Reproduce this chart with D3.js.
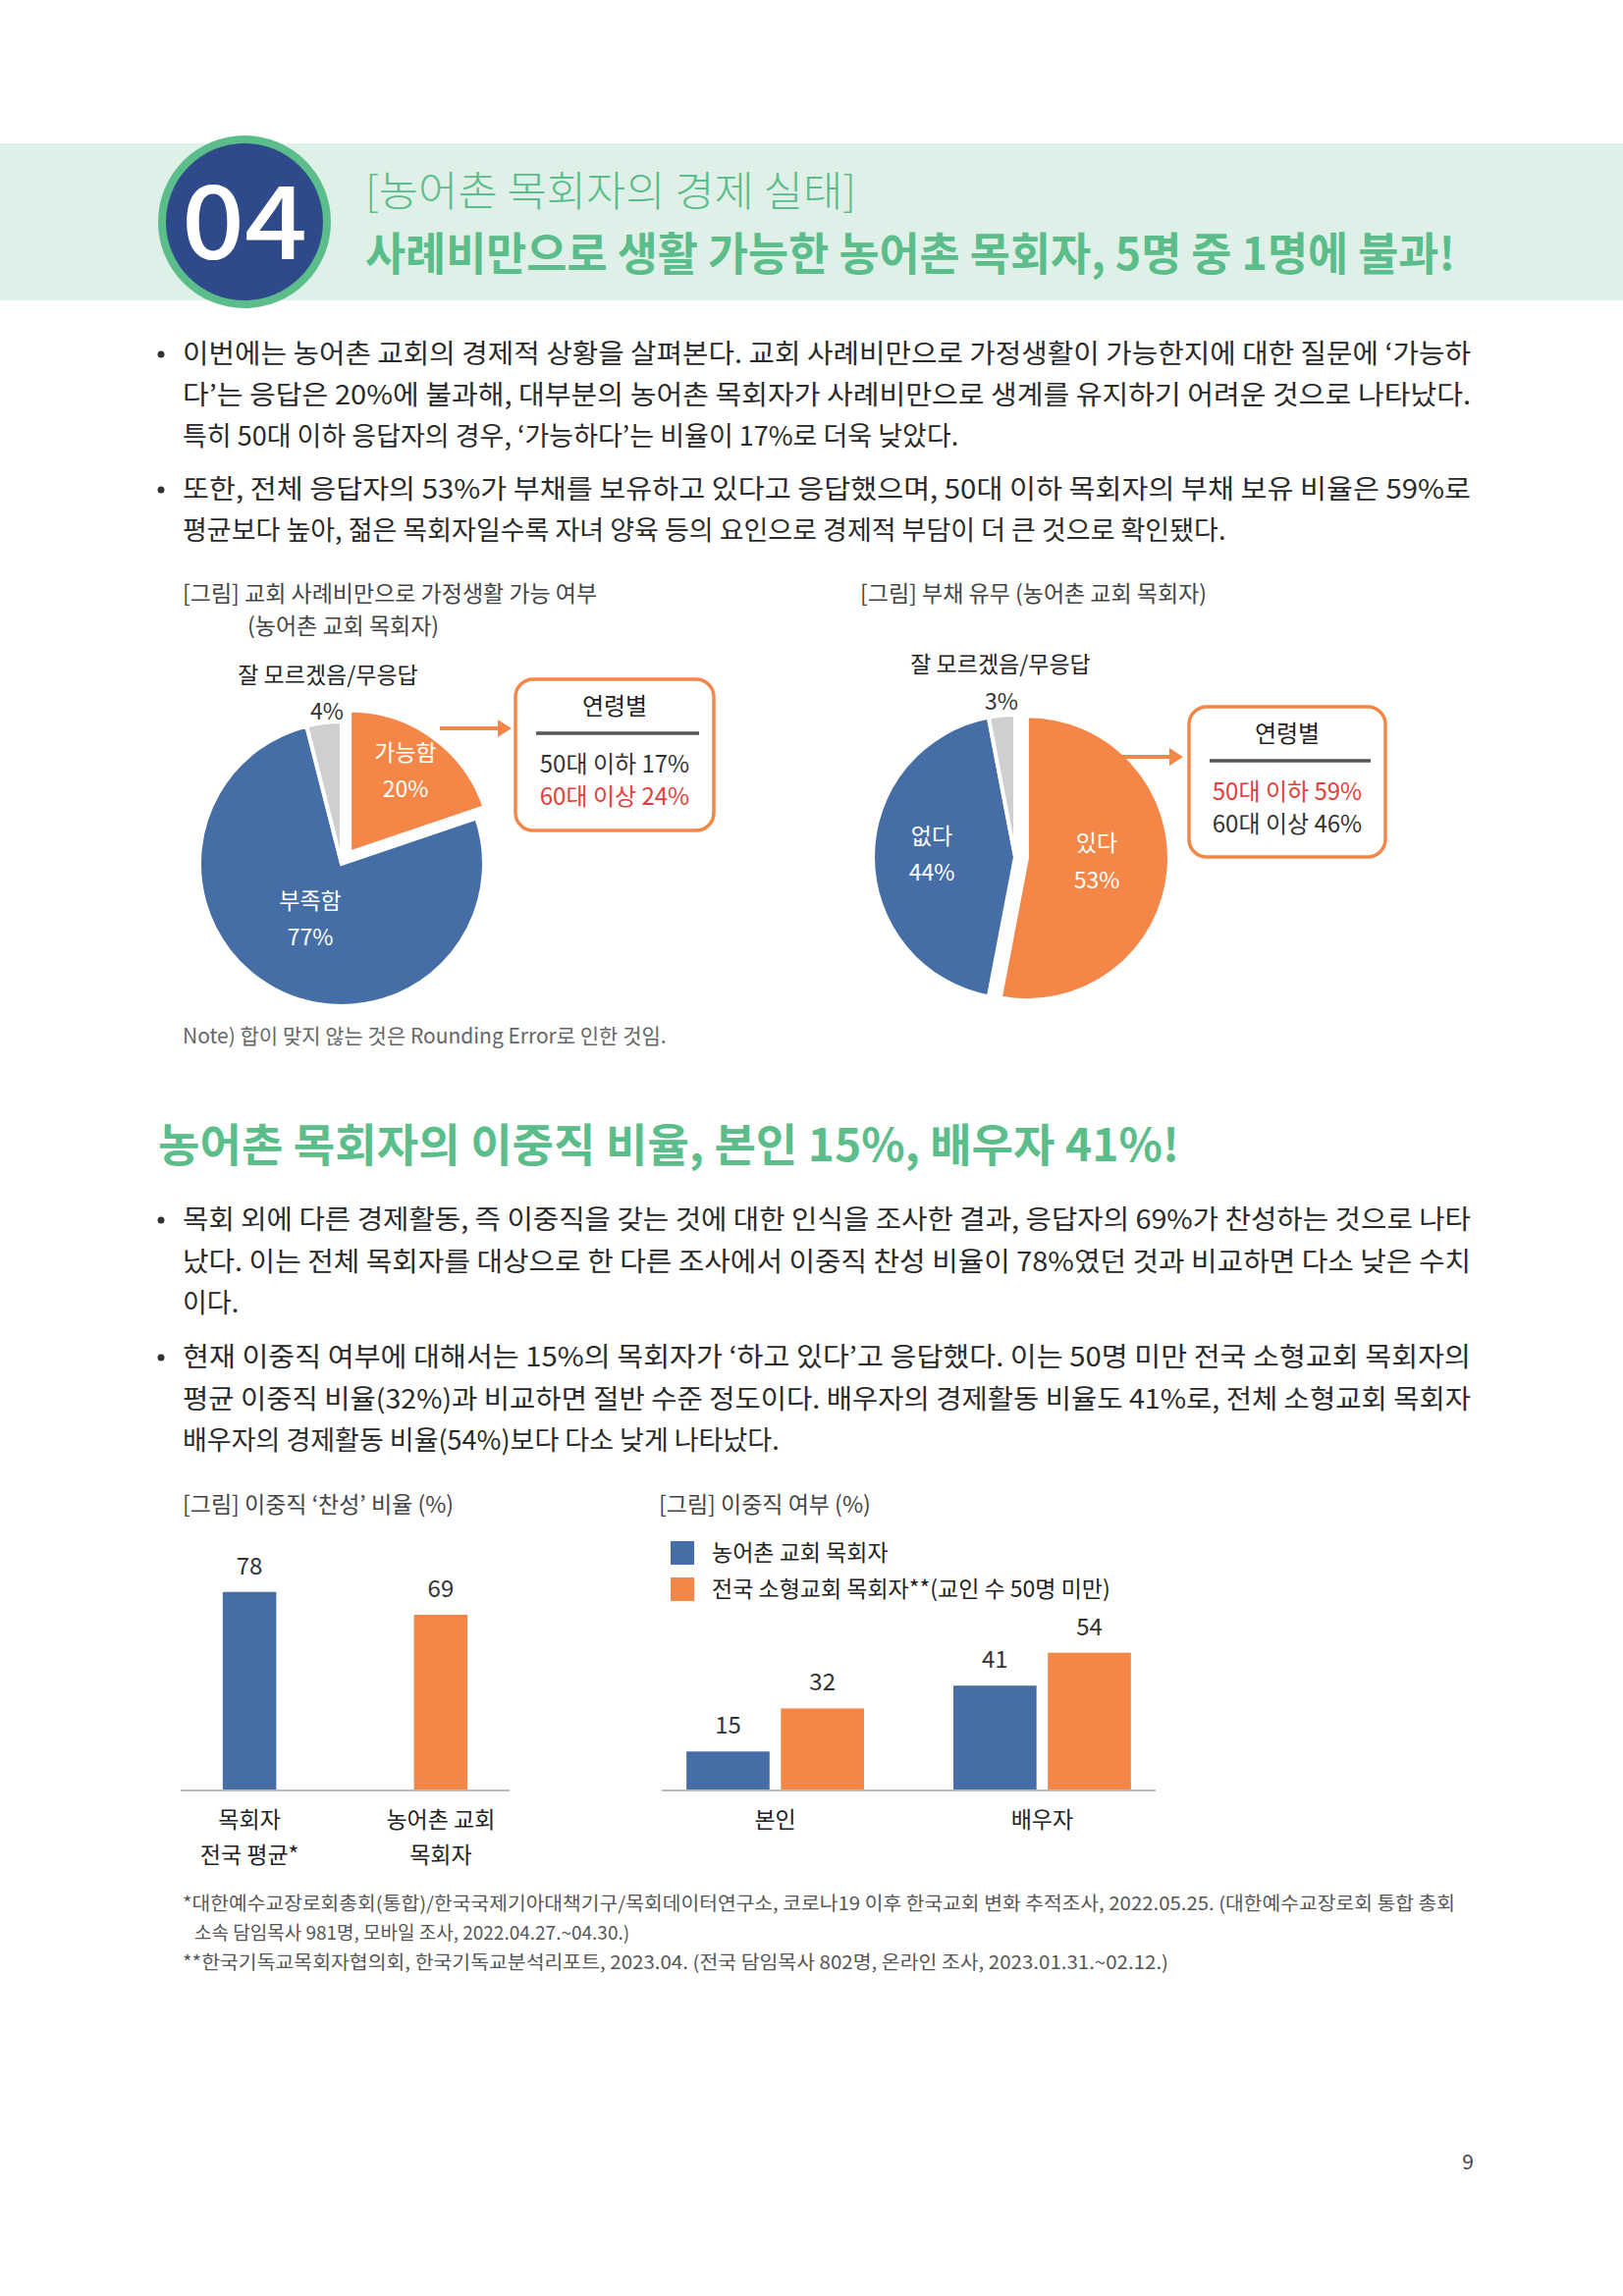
<!DOCTYPE html>
<html><head><meta charset="utf-8">
<script src="https://cdn.jsdelivr.net/npm/d3@7"></script>
<style>body{margin:0;background:#fff}svg{display:block}text{font-family:"Noto Sans CJK KR","Noto Sans",sans-serif}</style>
</head><body><svg id="c" width="1653" height="2339"></svg>
<script>
const BLUE="#456ea7", ORANGE="#f48747", GRAY="#d0cfcf", GREEN="#5bbd8a", RED="#e2413a";
// Pie 1
const pie1Labels=["가능함","부족함","잘 모르겠음/무응답"];
const pie1Values=[20,77,4];
const box1Labels=["50대 이하","60대 이상"], box1Values=[17,24];
// Pie 2
const pie2Labels=["있다","없다","잘 모르겠음/무응답"];
const pie2Values=[53,44,3];
const box2Labels=["50대 이하","60대 이상"], box2Values=[59,46];
// Bars 1
const bar1Cats=[["목회자","전국 평균*"],["농어촌 교회","목회자"]];
const bar1Values=[78,69];
// Bars 2
const bar2Cats=["본인","배우자"];
const bar2Series=["농어촌 교회 목회자","전국 소형교회 목회자**(교인 수 50명 미만)"];
const bar2Values=[[15,32],[41,54]];

const svg=d3.select("#c");
function T(x,y,s,opt={}){const t=svg.append("text").attr("x",x).attr("y",y).text(s)
 .attr("font-size",opt.size||27).attr("fill",opt.fill||"#222").attr("text-anchor",opt.anchor||"start")
 .attr("font-weight",opt.weight||400);
 if(opt.len){t.attr("textLength",opt.len).attr("lengthAdjust","spacingAndGlyphs");}
 return t;}

// Header
svg.append("rect").attr("x",0).attr("y",146).attr("width",1653).attr("height",160).attr("fill","#dff0e8");
svg.append("circle").attr("cx",249).attr("cy",226).attr("r",88).attr("fill",GREEN);
svg.append("circle").attr("cx",249).attr("cy",226).attr("r",80).attr("fill","#2f4a8a");
T(249,264,"04",{size:104,fill:"#fff",anchor:"middle",weight:500,len:128});
T(372,210,"[농어촌 목회자의 경제 실태]",{size:42,fill:GREEN,weight:300,len:500});
T(372,275,"사례비만으로 생활 가능한 농어촌 목회자, 5명 중 1명에 불과!",{size:46,fill:GREEN,weight:700,len:1110});

// Body text 1
const body1=[["이번에는 농어촌 교회의 경제적 상황을 살펴본다. 교회 사례비만으로 가정생활이 가능한지에 대한 질문에 ‘가능하",true],
["다’는 응답은 20%에 불과해, 대부분의 농어촌 목회자가 사례비만으로 생계를 유지하기 어려운 것으로 나타났다.",true],
["특히 50대 이하 응답자의 경우, ‘가능하다’는 비율이 17%로 더욱 낮았다.",false]];
const body2=[["또한, 전체 응답자의 53%가 부채를 보유하고 있다고 응답했으며, 50대 이하 목회자의 부채 보유 비율은 59%로",true],
["평균보다 높아, 젊은 목회자일수록 자녀 양육 등의 요인으로 경제적 부담이 더 큰 것으로 확인됐다.",false]];
function para(lines,y0,lh){lines.forEach((l,i)=>{if(i===0)svg.append("circle").attr("cx",164).attr("cy",y0-9).attr("r",3.5).attr("fill","#333");
 T(186,y0+i*lh,l[0],{size:27,fill:"#2a2a2a",len:l[1]?1312:null});});}
para(body1,370,42);para(body2,508,42);

// Pie 1
T(186,613,"[그림] 교회 사례비만으로 가정생활 가능 여부",{size:23,fill:"#444"});
T(252,646,"(농어촌 교회 목회자)",{size:23,fill:"#444"});
const arc=d3.arc().innerRadius(0).outerRadius(145);
function drawPie(cx,cy,vals,cols,explode,labs){
 const arcs=d3.pie().sort(null)(vals);
 const g=svg.append("g").attr("transform",`translate(${cx},${cy})`);
 arcs.forEach((a,i)=>{const m=(a.startAngle+a.endAngle)/2;const e=i===0?explode:0;
  g.append("path").attr("d",arc(a)).attr("fill",cols[i]).attr("stroke","#fff").attr("stroke-width",4)
   .attr("transform",`translate(${Math.sin(m)*e},${-Math.cos(m)*e})`);});
 return arcs;}
drawPie(348,880,pie1Values,[ORANGE,BLUE,GRAY],14);
T(334,696,pie1Labels[2],{size:23,anchor:"middle"});
T(333,733,pie1Values[2]+"%",{size:23,anchor:"middle",fill:"#333"});
T(413,775,pie1Labels[0],{size:23,anchor:"middle",fill:"#fff"});
T(413,812,pie1Values[0]+"%",{size:23,anchor:"middle",fill:"#fff"});
T(316,926,pie1Labels[1],{size:23,anchor:"middle",fill:"#fff"});
T(316,963,pie1Values[1]+"%",{size:23,anchor:"middle",fill:"#fff"});
function box(x,y,w,h,vals,labs,redIdx,ax0,ax1,ay){
 svg.append("rect").attr("x",x).attr("y",y).attr("width",w).attr("height",h).attr("rx",18).attr("fill","#fff").attr("stroke",ORANGE).attr("stroke-width",3.5);
 T(x+w/2,y+36,"연령별",{size:24,anchor:"middle"});
 svg.append("line").attr("x1",x+21).attr("x2",x+w-15).attr("y1",y+55).attr("y2",y+55).attr("stroke","#555").attr("stroke-width",3.5);
 labs.forEach((l,i)=>T(x+w/2,y+95+i*33,l+"  "+vals[i]+"%",{size:24,anchor:"middle",fill:i===redIdx?RED:"#333"}));
 svg.append("line").attr("x1",ax0).attr("x2",ax1-12).attr("y1",ay).attr("y2",ay).attr("stroke",ORANGE).attr("stroke-width",4);
 svg.append("path").attr("d",`M${ax1},${ay} L${ax1-14},${ay-9} L${ax1-14},${ay+9}Z`).attr("fill",ORANGE);}
box(525,692,202,154,box1Values,box1Labels,1,448,521,742);
T(186,1063,"Note) 합이 맞지 않는 것은 Rounding Error로 인한 것임.",{size:21,fill:"#666"});

// Pie 2
T(876,613,"[그림] 부채 유무 (농어촌 교회 목회자)",{size:23,fill:"#444"});
drawPie(1034,873,pie2Values,[ORANGE,BLUE,GRAY],12);
T(1019,685,pie2Labels[2],{size:23,anchor:"middle"});
T(1020,723,pie2Values[2]+"%",{size:23,anchor:"middle",fill:"#333"});
T(1117,867,pie2Labels[0],{size:23,anchor:"middle",fill:"#fff"});
T(1117,905,pie2Values[0]+"%",{size:23,anchor:"middle",fill:"#fff"});
T(949,860,pie2Labels[1],{size:23,anchor:"middle",fill:"#fff"});
T(949,897,pie2Values[1]+"%",{size:23,anchor:"middle",fill:"#fff"});
box(1211,720,200,153,box2Values,box2Labels,0,1138,1205,771);

// Heading 2
T(161,1183,"농어촌 목회자의 이중직 비율, 본인 15%, 배우자 41%!",{size:46,fill:GREEN,weight:700,len:1040});
const body3=[["목회 외에 다른 경제활동, 즉 이중직을 갖는 것에 대한 인식을 조사한 결과, 응답자의 69%가 찬성하는 것으로 나타",true],
["났다. 이는 전체 목회자를 대상으로 한 다른 조사에서 이중직 찬성 비율이 78%였던 것과 비교하면 다소 낮은 수치",true],["이다.",false]];
const body4=[["현재 이중직 여부에 대해서는 15%의 목회자가 ‘하고 있다’고 응답했다. 이는 50명 미만 전국 소형교회 목회자의",true],
["평균 이중직 비율(32%)과 비교하면 절반 수준 정도이다. 배우자의 경제활동 비율도 41%로, 전체 소형교회 목회자",true],
["배우자의 경제활동 비율(54%)보다 다소 낮게 나타났다.",false]];
para(body3,1252,42.5);para(body4,1392,42.5);

// Bar chart 1
T(186,1541,"[그림] 이중직 ‘찬성’ 비율 (%)",{size:23,fill:"#444"});
const base=1823;
const y=d3.scaleLinear().domain([0,100]).range([base,base-258]);
const x1=d3.scaleBand().domain([0,1]).range([184,519]).paddingInner(0.72).paddingOuter(0.22);
svg.append("line").attr("x1",184).attr("x2",519).attr("y1",base+1).attr("y2",base+1).attr("stroke","#bbb").attr("stroke-width",2);
bar1Values.forEach((v,i)=>{svg.append("rect").attr("x",x1(i)).attr("width",x1.bandwidth()).attr("y",y(v)).attr("height",base-y(v)).attr("fill",i?ORANGE:BLUE);
 T(x1(i)+x1.bandwidth()/2,y(v)-18,v,{size:24,anchor:"middle",fill:"#333"});
 bar1Cats[i].forEach((c,j)=>T(x1(i)+x1.bandwidth()/2,1862+j*36,c,{size:23,anchor:"middle"}));});

// Bar chart 2
T(671,1541,"[그림] 이중직 여부 (%)",{size:23,fill:"#444"});
bar2Series.forEach((s,i)=>{svg.append("rect").attr("x",683).attr("y",1570+i*37).attr("width",24).attr("height",24).attr("fill",i?ORANGE:BLUE);
 T(725,1590+i*37,s,{size:23});});
const x2=d3.scaleBand().domain(bar2Cats).range([674,1177]).paddingInner(0.25).paddingOuter(0.05);
const xs=d3.scaleBand().domain([0,1]).range([0,x2.bandwidth()]).paddingInner(0.12).paddingOuter(0.12);
svg.append("line").attr("x1",674).attr("x2",1177).attr("y1",base+1).attr("y2",base+1).attr("stroke","#bbb").attr("stroke-width",2);
bar2Cats.forEach((c,ci)=>{bar2Values[ci].forEach((v,si)=>{const bx=x2(c)+xs(si);
 svg.append("rect").attr("x",bx).attr("width",xs.bandwidth()).attr("y",y(v)).attr("height",base-y(v)).attr("fill",si?ORANGE:BLUE);
 T(bx+xs.bandwidth()/2,y(v)-18,v,{size:24,anchor:"middle",fill:"#333"});});
 T(x2(c)+x2.bandwidth()/2,1862,c,{size:23,anchor:"middle"});});

// Footnotes
T(186,1946,"*대한예수교장로회총회(통합)/한국국제기아대책기구/목회데이터연구소, 코로나19 이후 한국교회 변화 추적조사, 2022.05.25. (대한예수교장로회 통합 총회",{size:19,fill:"#555",len:1296});
T(198,1976,"소속 담임목사 981명, 모바일 조사, 2022.04.27.~04.30.)",{size:19,fill:"#555"});
T(186,2006,"**한국기독교목회자협의회, 한국기독교분석리포트, 2023.04. (전국 담임목사 802명, 온라인 조사, 2023.01.31.~02.12.)",{size:19,fill:"#555",len:1004});
T(1495,2210,"9",{size:21,fill:"#444",anchor:"middle"});
</script></body></html>
